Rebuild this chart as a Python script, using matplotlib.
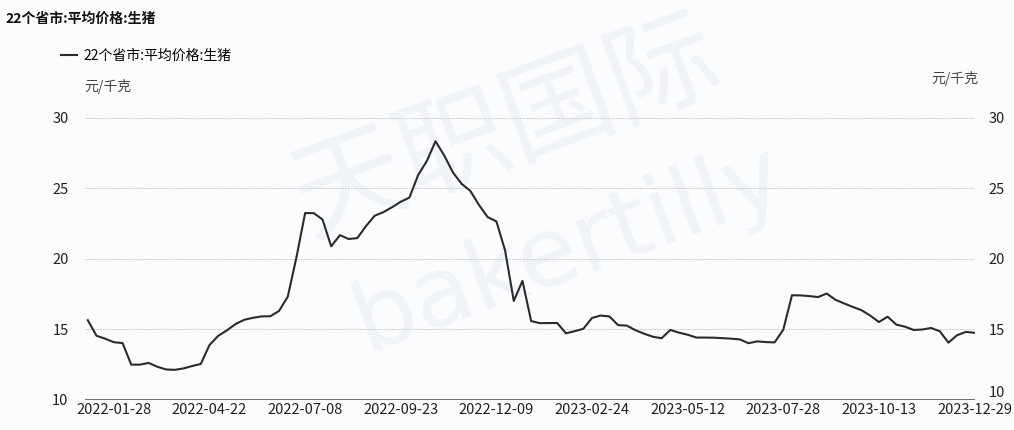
import numpy as np
import pandas as pd
import matplotlib
matplotlib.use("Agg")
import matplotlib.pyplot as plt
from matplotlib.ticker import FixedLocator, FixedFormatter

plt.rcParams['font.family'] = ['Noto Sans CJK SC', 'DejaVu Sans']

# weekly dates, the lunar new year week 2022-02-04 has no quote
dates = pd.date_range('2022-01-07', '2023-12-29', freq='7D')
dates = dates[dates != pd.Timestamp('2022-02-04')]

# 22个省市 平均价格 生猪 (元/千克)
price = [
    15.65, 14.55, 14.34, 14.09, 14.03, 12.50, 12.50, 12.62, 12.35, 12.16,
    12.13, 12.23, 12.40, 12.55, 13.89, 14.54, 14.93, 15.38, 15.68, 15.82,
    15.92, 15.93, 16.31, 17.31, 20.10, 23.25, 23.24, 22.79, 20.89, 21.68,
    21.41, 21.47, 22.32, 23.06, 23.31, 23.66, 24.05, 24.35, 25.94, 26.94,
    28.34, 27.33, 26.13, 25.32, 24.82, 23.82, 22.96, 22.66, 20.60, 17.02,
    18.44, 15.59, 15.44, 15.45, 15.45, 14.72, 14.87, 15.04, 15.81, 15.98,
    15.92, 15.30, 15.27, 14.94, 14.69, 14.48, 14.37, 14.96, 14.77, 14.62,
    14.42, 14.42, 14.41, 14.38, 14.34, 14.29, 14.02, 14.15, 14.10, 14.08,
    14.97, 17.42, 17.41, 17.36, 17.29, 17.54, 17.10, 16.84, 16.59, 16.36,
    15.98, 15.52, 15.90, 15.34, 15.19, 14.96, 14.99, 15.10, 14.87, 14.06,
    14.59, 14.82, 14.76,
]

title = '22个省市:平均价格:生猪'
unit = '元/千克'
yticks = [10, 15, 20, 25, 30]

labels = [d.strftime('%Y-%m-%d') for d in dates]
x = np.arange(len(price))
tick_pos = list(range(3, len(price), 11))

fig = plt.figure(figsize=(10.14, 4.30), dpi=100)
fig.patch.set_facecolor('#fbfcfd')
ax = fig.add_axes([0.084, 0.07, 0.8775, 0.656])
ax.set_facecolor('none')
ax.set_zorder(2)

# faint watermark behind the axes
wm = '#f0f3f8'
fig.text(0.50, 0.70, '天职国际', fontsize=80, color=wm, rotation=20,
         ha='center', va='center', zorder=0)
fig.text(0.56, 0.42, 'bakertilly', fontsize=70, color=wm, rotation=20,
         ha='center', va='center', family=['DejaVu Sans'], zorder=0)

line, = ax.plot(x, price, color='#2b2b2b', lw=1.5, zorder=3, label=title)

ax.set_xlim(-0.3, 102.05)
ax.set_ylim(10, 30)
for v in yticks[1:]:
    ax.axhline(v, color='#cccccc', lw=0.7, ls=(0, (2, 1)), zorder=1)
ax.axhline(10, color='#555555', lw=1.2, zorder=2)

for s in ax.spines.values():
    s.set_visible(False)

ax.xaxis.set_major_locator(FixedLocator(tick_pos))
ax.xaxis.set_major_formatter(FixedFormatter([labels[i] for i in tick_pos]))
ax.set_yticks(yticks)
ax.tick_params(axis='both', length=0, labelsize=10.5, colors='#222222')
ax.tick_params(axis='x', pad=2)
ax.tick_params(axis='y', pad=12)

ax2 = ax.twinx()
ax2.set_zorder(1)
ax2.set_ylim(10, 30)
ax2.set_yticks(yticks)
for s in ax2.spines.values():
    s.set_visible(False)
ax2.tick_params(axis='y', length=0, labelsize=10.5, colors='#222222', pad=10)
ax2.get_yticklabels()[0].set_va('bottom')

fig.text(0.005, 0.955, title, fontsize=10, fontweight='bold', color='#111111',
         ha='left', va='center')
ax.legend(handles=[line], loc='center left', bbox_to_anchor=(0.055, 0.87),
          bbox_transform=fig.transFigure, frameon=False, fontsize=10,
          handlelength=1.1, handletextpad=0.5, borderaxespad=0)
fig.text(0.083, 0.80, unit, fontsize=10, color='#444444', ha='left', va='center')
fig.text(0.965, 0.817, unit, fontsize=10, color='#444444', ha='right', va='center')

fig.savefig('out.png', dpi=100, facecolor=fig.get_facecolor())
